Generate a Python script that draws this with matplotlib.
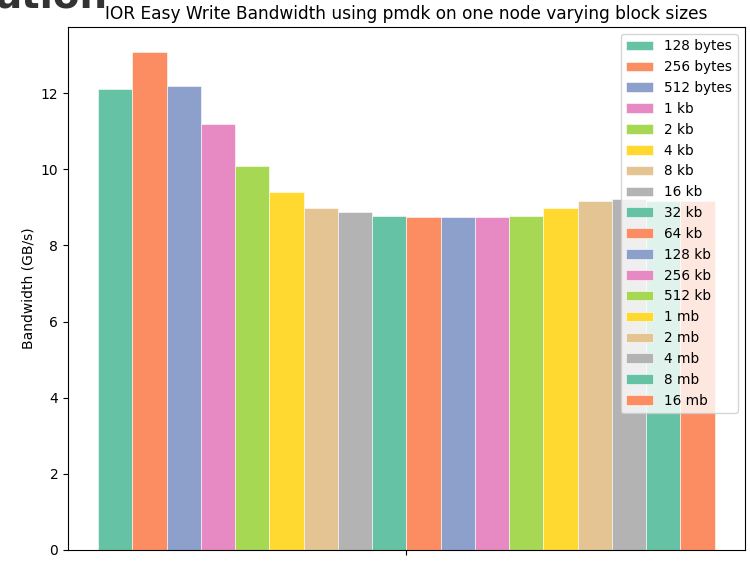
import matplotlib.pyplot as plt
import numpy as np

# IOR easy write results, pmdk, one node
block_sizes = ['128 bytes', '256 bytes', '512 bytes', '1 kb', '2 kb', '4 kb',
               '8 kb', '16 kb', '32 kb', '64 kb', '128 kb', '256 kb',
               '512 kb', '1 mb', '2 mb', '4 mb', '8 mb', '16 mb']
bandwidth = [12.11, 13.08, 12.18, 11.19, 10.09, 9.40,
             8.99, 8.87, 8.77, 8.74, 8.74, 8.74,
             8.77, 8.98, 9.16, 9.21, 9.17, 9.17]

colors = plt.get_cmap('Set2').colors

fig = plt.figure(figsize=(7.5, 5.7), dpi=100)
ax = fig.add_axes([0.0907, 0.0351, 0.9023, 0.9175])

pos = np.arange(len(block_sizes))
for i, (name, val) in enumerate(zip(block_sizes, bandwidth)):
    ax.bar(pos[i], val, width=1.0, color=colors[i % len(colors)],
           edgecolor='white', linewidth=0.4, label=name)

center = pos.mean()
half = len(pos) / 2 / 0.911
ax.set_xlim(center - half, center + half)
ax.set_xticks([center])
ax.set_xticklabels([''])

ax.set_ylabel('Bandwidth (GB/s)')
ax.set_title('IOR Easy Write Bandwidth using pmdk on one node varying block sizes',
             fontsize=12.25)
ax.legend(loc='upper right', framealpha=0.8, fontsize=9.85)

# tail of the notebook heading above the figure
fig.text(-0.006, 1 - 7 / 570, 'ation', fontsize=28, fontweight='bold',
         color='#333333', va='baseline')

fig.savefig('out.png')
